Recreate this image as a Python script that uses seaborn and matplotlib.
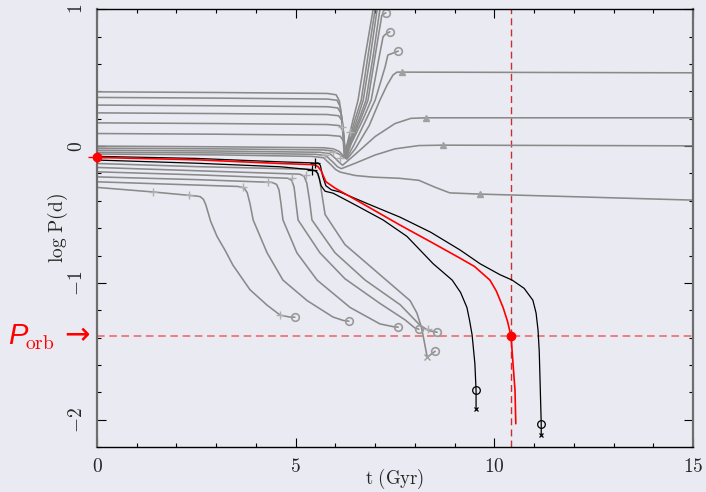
import numpy as np
import pandas as pd
import matplotlib
matplotlib.use("Agg")
import matplotlib.pyplot as plt
import seaborn as sns

# Trayectorias: t (Gyr) y log P (d)
# pistas grises que suben (orbitas anchas)
u1_t = [0, 3.0, 5.8, 6.02, 6.10, 6.15, 6.19, 6.22, 6.30, 6.45, 6.57, 6.75, 6.95, 6.99]
u1_y = [0.397, 0.392, 0.385, 0.375, 0.33, 0.22, 0.08, -0.06, 0.02, 0.2, 0.336, 0.66, 1.0, 1.06]
u2_t = [0, 3.0, 5.8, 6.04, 6.12, 6.17, 6.21, 6.23, 6.32, 6.5, 6.65, 6.82, 7.0, 7.04]
u2_y = [0.356, 0.351, 0.344, 0.335, 0.29, 0.19, 0.06, -0.065, 0.02, 0.2, 0.336, 0.66, 1.0, 1.06]
u3_t = [0, 3.0, 5.8, 6.06, 6.14, 6.19, 6.22, 6.24, 6.34, 6.55, 6.70, 6.88, 7.05, 7.09]
u3_y = [0.300, 0.295, 0.288, 0.279, 0.24, 0.15, 0.03, -0.07, 0.02, 0.2, 0.336, 0.66, 1.0, 1.06]
u4_t = [0, 3.0, 5.8, 6.08, 6.16, 6.20, 6.23, 6.25, 6.36, 6.6, 6.77, 6.95, 7.12, 7.16]
u4_y = [0.243, 0.238, 0.231, 0.222, 0.19, 0.11, 0.0, -0.075, 0.02, 0.2, 0.336, 0.66, 1.0, 1.06]
u5_t = [0, 3.0, 5.8, 6.10, 6.18, 6.22, 6.26, 6.38, 6.64, 6.82, 7.05, 7.17, 7.27]
u5_y = [0.170, 0.165, 0.158, 0.15, 0.12, 0.05, -0.08, 0.02, 0.2, 0.336, 0.75, 0.958, 0.975]
u6_t = [0, 3.0, 5.8, 6.12, 6.2, 6.24, 6.27, 6.40, 6.70, 6.90, 7.10, 7.20, 7.27, 7.37]
u6_y = [0.092, 0.087, 0.080, 0.072, 0.04, -0.02, -0.085, 0.02, 0.2, 0.336, 0.65, 0.80, 0.82, 0.836]
u7_t = [0, 3.0, 5.7, 5.95, 6.1, 6.2, 6.28, 6.45, 6.75, 7.0, 7.25, 7.32, 7.45, 7.58]
u7_y = [0.0, -0.005, -0.012, -0.02, -0.04, -0.07, -0.09, 0.0, 0.18, 0.336, 0.578, 0.666, 0.68, 0.695]
u8_t = [0, 3.0, 5.7, 5.94, 6.1, 6.2, 6.29, 6.5, 6.85, 7.12, 7.3, 7.45, 7.55, 7.68, 15]
u8_y = [-0.015, -0.02, -0.028, -0.036, -0.06, -0.08, -0.095, -0.02, 0.15, 0.336, 0.446, 0.52, 0.541, 0.541, 0.536]

# pistas grises que quedan planas
l1_t = [0, 3.0, 5.6, 5.86, 6.0, 6.1, 6.18, 6.5, 7.0, 7.5, 7.9, 8.28, 15]
l1_y = [-0.03, -0.036, -0.045, -0.055, -0.09, -0.12, -0.14, -0.06, 0.07, 0.165, 0.203, 0.207, 0.207]
l2_t = [0, 3.0, 5.5, 5.76, 5.95, 6.05, 6.15, 6.5, 7.0, 7.5, 8.1, 8.71, 15]
l2_y = [-0.045, -0.05, -0.06, -0.07, -0.12, -0.15, -0.165, -0.125, -0.065, -0.02, 0.004, 0.007, 0.002]
l3_t = [0, 3.0, 5.4, 5.7, 5.9, 6.0, 6.12, 6.5, 6.95, 7.6, 8.1, 8.5, 8.88, 9.64, 12, 15]
l3_y = [-0.058, -0.064, -0.075, -0.085, -0.14, -0.17, -0.19, -0.215, -0.227, -0.235, -0.25, -0.30, -0.342, -0.351, -0.37, -0.395]

# pistas grises que decaen
d1_t = [0, 1.4, 2.5, 2.6, 2.68, 2.74, 2.79, 2.86, 3.02, 3.22, 3.42, 3.85, 4.28, 4.61, 4.85, 4.98]
d1_y = [-0.302, -0.335, -0.365, -0.37, -0.39, -0.43, -0.48, -0.55, -0.66, -0.76, -0.87, -1.05, -1.163, -1.236, -1.25, -1.251]
d2_t = [0, 2.0, 3.55, 3.7, 3.78, 3.85, 3.93, 4.28, 4.68, 5.29, 5.94, 6.2, 6.34]
d2_y = [-0.261, -0.28, -0.295, -0.305, -0.34, -0.42, -0.54, -0.78, -0.98, -1.13, -1.25, -1.275, -1.28]
d3_t = [0, 2.5, 4.4, 4.52, 4.58, 4.63, 4.68, 5.03, 5.54, 6.37, 7.12, 7.45, 7.58]
d3_y = [-0.225, -0.245, -0.265, -0.28, -0.32, -0.42, -0.54, -0.78, -0.98, -1.18, -1.30, -1.32, -1.324]
d4_t = [0, 2.5, 4.8, 4.9, 4.96, 5.01, 5.06, 5.61, 6.24, 7.12, 7.75, 8.0, 8.10]
d4_y = [-0.188, -0.21, -0.235, -0.25, -0.30, -0.42, -0.54, -0.78, -0.97, -1.15, -1.27, -1.33, -1.339]
d5_t = [0, 2.5, 5.1, 5.21, 5.28, 5.35, 5.41, 5.99, 6.75, 7.63, 8.13, 8.35, 8.56]
d5_y = [-0.156, -0.18, -0.205, -0.22, -0.27, -0.40, -0.54, -0.78, -0.98, -1.16, -1.31, -1.35, -1.361]
d6_t = [0, 2.5, 5.4, 5.53, 5.6, 5.67, 5.74, 6.24, 7.12, 7.88, 8.05, 8.16, 8.23, 8.31, 8.51]
d6_y = [-0.127, -0.15, -0.17, -0.19, -0.24, -0.37, -0.50, -0.72, -0.94, -1.13, -1.22, -1.32, -1.42, -1.544, -1.50]

# pistas negras y la roja
b1_t = [0, 2.5, 4.61, 5.36, 5.50, 5.56, 5.62, 5.68, 5.76, 5.90, 6.12, 6.8, 7.63, 8.4, 9.14, 9.64,
        10.14, 10.45, 10.75, 10.97, 11.05, 11.10, 11.13, 11.15, 11.18, 11.18]
b1_y = [-0.075, -0.09, -0.115, -0.122, -0.125, -0.122, -0.14, -0.22, -0.29, -0.32, -0.336, -0.42,
        -0.52, -0.63, -0.76, -0.86, -0.94, -0.98, -1.04, -1.127, -1.22, -1.346, -1.50, -1.71, -2.03, -2.11]
b2_t = [0, 2.5, 4.61, 5.30, 5.42, 5.50, 5.56, 5.64, 5.74, 5.94, 6.5, 7.2, 7.8, 8.46, 8.94, 9.15,
        9.31, 9.38, 9.44, 9.51, 9.54, 9.54]
b2_y = [-0.102, -0.125, -0.151, -0.17, -0.176, -0.18, -0.20, -0.29, -0.33, -0.344, -0.43, -0.54,
        -0.66, -0.86, -0.98, -1.07, -1.18, -1.28, -1.38, -1.59, -1.785, -1.92]
red_t = [0, 2.5, 4.61, 5.40, 5.50, 5.56, 5.64, 5.76, 5.99, 6.8, 7.63, 8.46, 9.14, 9.5, 9.89,
         10.05, 10.22, 10.33, 10.42, 10.47, 10.52, 10.54]
red_y = [-0.083, -0.10, -0.127, -0.135, -0.14, -0.15, -0.18, -0.26, -0.307, -0.44, -0.578, -0.71,
         -0.82, -0.88, -0.98, -1.06, -1.18, -1.28, -1.39, -1.59, -1.785, -2.03]

# marcadores
tri_t = [7.68, 8.28, 8.71, 9.64]
tri_y = [0.541, 0.207, 0.007, -0.351]
circ_gris_t = [7.27, 7.37, 7.58, 4.98, 6.34, 7.58, 8.10, 8.56, 8.51]
circ_gris_y = [0.975, 0.836, 0.695, -1.251, -1.28, -1.324, -1.339, -1.361, -1.50]
mas_gris_t = [1.40, 2.32, 3.67, 4.30, 4.90, 5.26, 5.74, 5.94, 6.12, 6.17, 6.37, 4.61, 8.33]
mas_gris_y = [-0.337, -0.36, -0.297, -0.263, -0.235, -0.21, -0.065, -0.04, -0.09, 0.14, 0.10, -1.236, -1.34]
x_gris_t = [8.31]
x_gris_y = [-1.544]
circ_negro_t = [9.54, 11.18]
circ_negro_y = [-1.785, -2.03]
x_negro_t = [9.54, 11.18]
x_negro_y = [-1.92, -2.11]
mas_negro_t = [5.49, 5.41]
mas_negro_y = [-0.124, -0.176]

# estado inicial y periodo orbital observado
p0_t, p0_y = 0.0, -0.083
p0_terr, p0_yerr = 0.22, 0.04
porb = -1.39
t_porb = 10.42

x_ticks = [0, 5, 10, 15]
y_ticks = [-2, -1, 0, 1]


def to_long(tracks):
    rows = []
    for name, (t, y) in tracks.items():
        for ti, yi in zip(t, y):
            rows.append((name, ti, yi))
    return pd.DataFrame(rows, columns=["track", "t", "logP"])


gris = to_long({"u1": (u1_t, u1_y), "u2": (u2_t, u2_y), "u3": (u3_t, u3_y), "u4": (u4_t, u4_y),
                "u5": (u5_t, u5_y), "u6": (u6_t, u6_y), "u7": (u7_t, u7_y), "u8": (u8_t, u8_y),
                "l1": (l1_t, l1_y), "l2": (l2_t, l2_y), "l3": (l3_t, l3_y),
                "d1": (d1_t, d1_y), "d2": (d2_t, d2_y), "d3": (d3_t, d3_y),
                "d4": (d4_t, d4_y), "d5": (d5_t, d5_y), "d6": (d6_t, d6_y)})
negras = to_long({"b1": (b1_t, b1_y), "b2": (b2_t, b2_y)})
roja = to_long({"r": (red_t, red_y)})

fondo = "#eaeaf2"
sns.set_theme(style="dark", rc={"axes.facecolor": fondo, "figure.facecolor": fondo})
plt.rcParams["mathtext.fontset"] = "cm"

fig = plt.figure(figsize=(7.06, 4.92), dpi=100)
ax = fig.add_axes([0.1374, 0.0915, 0.8442, 0.8895])

sns.lineplot(data=gris, x="t", y="logP", units="track", estimator=None, sort=False,
             color="#8a8a8a", lw=1.15, ax=ax, legend=False)
sns.lineplot(data=negras, x="t", y="logP", units="track", estimator=None, sort=False,
             color="black", lw=0.9, ax=ax, legend=False)
sns.lineplot(data=roja, x="t", y="logP", units="track", estimator=None, sort=False,
             color="red", lw=1.2, ax=ax, legend=False)

ax.plot(tri_t, tri_y, ls="none", marker="^", ms=4, color="#a0a0a0")
ax.plot(circ_gris_t, circ_gris_y, ls="none", marker="o", ms=5.5, mfc="none", mec="#9a9a9a", mew=1.2)
ax.plot(mas_gris_t, mas_gris_y, ls="none", marker="+", ms=6, color="#b0b0b0", mew=1)
ax.plot(x_gris_t, x_gris_y, ls="none", marker="x", ms=4, color="#a0a0a0", mew=1)
ax.plot(circ_negro_t, circ_negro_y, ls="none", marker="o", ms=5.5, mfc="none", mec="black", mew=0.9)
ax.plot(x_negro_t, x_negro_y, ls="none", marker="x", ms=3.5, color="black", mew=0.9)
ax.plot(mas_negro_t, mas_negro_y, ls="none", marker="+", ms=7, color="black", mew=0.9)

ax.axhline(porb, color="#f04848", ls=(0, (5, 3)), lw=1.1, alpha=0.85, zorder=1)
ax.axvline(t_porb, color="#c83030", ls=(0, (5, 3)), lw=1.0, zorder=1)
ax.plot([t_porb], [porb], ls="none", marker="o", ms=6, color="red", zorder=6)

eb = ax.errorbar(p0_t, p0_y, xerr=p0_terr, yerr=p0_yerr, fmt="o", color="red", ms=6,
                 elinewidth=1, capsize=0, zorder=6)
eb[0].set_clip_on(False)
for c in eb[2]:
    c.set_clip_on(False)

ax.set_xlim(0, 15)
ax.set_ylim(-2.2, 1)
ax.set_xticks(x_ticks)
ax.set_xticklabels([f"${v}$" for v in x_ticks])
ax.set_yticks(y_ticks)
ax.set_yticklabels([f"${v}$" for v in y_ticks], rotation=90, va="center")
ax.set_xticks(np.arange(0, 15.01, 1), minor=True)
ax.set_yticks(np.arange(-2.2, 1.01, 0.2), minor=True)
ax.tick_params(which="both", direction="in", top=True, right=True, bottom=True, left=True,
               color="black", width=0.8)
ax.tick_params(which="major", length=6.5, labelsize=14)
ax.tick_params(axis="x", which="major", pad=7)
ax.tick_params(axis="y", which="major", pad=8)
ax.tick_params(which="minor", length=3.2)
ax.grid(False)

for lado in ["top", "bottom"]:
    ax.spines[lado].set_color("black")
    ax.spines[lado].set_linewidth(1.0)
for lado in ["left", "right"]:
    ax.spines[lado].set_color("#6e6e6e")
    ax.spines[lado].set_linewidth(1.6)

ax.set_xlabel(r"$\mathrm{t\ (Gyr)}$", fontsize=13.5)
ax.set_ylabel(r"$\mathrm{log\ P(d)}$", fontsize=14)
ax.xaxis.set_label_coords(0.5, -0.046)
ax.yaxis.set_label_coords(-0.045, 0.5)

# etiqueta P_orb a la izquierda
fig.text(8 / 706, 1 - 344 / 492, "P", fontsize=21, style="italic", family="Liberation Sans",
         color="red", va="baseline")
fig.text(25 / 706, 1 - 349 / 492, r"$\mathrm{orb}$", fontsize=14, color="red", va="baseline")
fig.text(90 / 706, 1 - 336 / 492, "\u2192", fontsize=22, family="DejaVu Sans", color="red",
         ha="right", va="center")

fig.savefig("out.png", dpi=100, facecolor=fondo)
